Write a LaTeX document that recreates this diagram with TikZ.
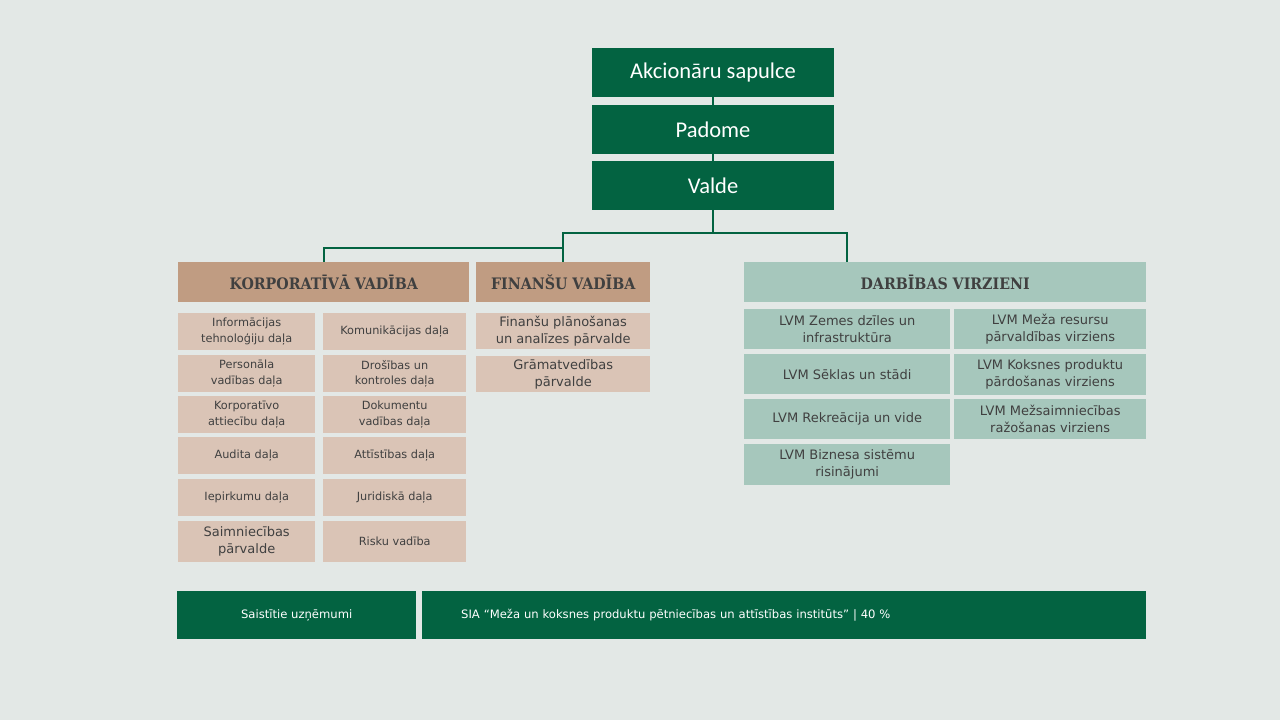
\documentclass[tikz,border=0pt]{standalone}
\usepackage{fontspec}
\setmainfont{DejaVu Sans}
\newfontfamily\topfont{Carlito}
\newfontfamily\headfont{DejaVu Serif Condensed}

\tikzset{
  linie/.style={draw=lvmgreen, line width=1.6pt},
  topbox/.style={fill=lvmgreen, text=white, minimum width=242pt, minimum height=49pt, inner sep=0pt, font=\topfont\fontsize{22.5}{26}\selectfont},
  kopf/.style={text=txtgray, minimum height=40pt, inner sep=0pt, anchor=north west, font=\headfont\bfseries\fontsize{15.8}{18}\selectfont},
  feld/.style={text=txtgray, inner sep=0pt, align=center, anchor=north west, minimum height=37pt},
  klein/.style={font=\fontsize{11.3}{15.5}\selectfont},
  gross/.style={font=\fontsize{13}{16.7}\selectfont},
  unten/.style={fill=lvmgreen, text=white, minimum height=48pt, inner sep=0pt, anchor=north west, font=\fontsize{11.6}{13}\selectfont},
}

\begin{document}
\begin{tikzpicture}[x=1pt, y=-1pt]

\definecolor{bggray}{RGB}{227,232,230}
\definecolor{lvmgreen}{RGB}{3,99,65}
\definecolor{lvmtan}{RGB}{192,156,130}
\definecolor{lvmlight}{RGB}{218,196,182}
\definecolor{lvmteal}{RGB}{166,199,188}
\definecolor{txtgray}{RGB}{64,64,64}

    %Hintergrund
    \fill [bggray] (0,0) rectangle (1280,720);

    %Spitze
    \node[topbox] (akc) at (713,72.5) {Akcionāru sapulce};
    \node[topbox] (pad) at (713,129.5) {Padome};
    \node[topbox] (val) at (713,185.5) {Valde};

    %Koepfe
    \node[kopf, fill=lvmtan, minimum width=291pt] (korp) at (178,262) {KORPORATĪVĀ VADĪBA};
    \node[kopf, fill=lvmtan, minimum width=174pt] (fin) at (476,262) {FINANŠU VADĪBA};
    \node[kopf, fill=lvmteal, minimum width=402pt] (darb) at (744,262) {DARBĪBAS VIRZIENI};

    %Linien
    \coordinate (knick) at (713,233);
    \coordinate (knickk) at (563,248);
    \coordinate (darbin) at (847,262);
    \draw[linie] (akc) -- (pad);
    \draw[linie] (pad) -- (val);
    \draw[linie] (val) -- (knick);
    \draw[linie] (knick) -| (fin.north);
    \draw[linie] (knick) -| (darbin);
    \draw[linie] (knickk) -| (korp.north);

    %Korporativa vadiba, links
    \node[feld, klein, fill=lvmlight, minimum width=137pt] (infot) at (178,313) {Informācijas\\tehnoloģiju daļa};
    \node[feld, klein, fill=lvmlight, minimum width=137pt] (pers) at (178,355) {Personāla\\vadības daļa};
    \node[feld, klein, fill=lvmlight, minimum width=137pt] (korpatt) at (178,396) {Korporatīvo\\attiecību daļa};
    \node[feld, klein, fill=lvmlight, minimum width=137pt] (aud) at (178,437) {Audita daļa};
    \node[feld, klein, fill=lvmlight, minimum width=137pt] (iep) at (178,479) {Iepirkumu daļa};
    \node[feld, gross, fill=lvmlight, minimum width=137pt, minimum height=41pt] (saim) at (178,521) {Saimniecības\\pārvalde};

    %Korporativa vadiba, rechts
    \node[feld, klein, fill=lvmlight, minimum width=143pt] (kom) at (323,313) {Komunikācijas daļa};
    \node[feld, klein, fill=lvmlight, minimum width=143pt] (dros) at (323,355) {Drošības un\\kontroles daļa};
    \node[feld, klein, fill=lvmlight, minimum width=143pt] (dok) at (323,396) {Dokumentu\\vadības daļa};
    \node[feld, klein, fill=lvmlight, minimum width=143pt] (att) at (323,437) {Attīstības daļa};
    \node[feld, klein, fill=lvmlight, minimum width=143pt] (jur) at (323,479) {Juridiskā daļa};
    \node[feld, klein, fill=lvmlight, minimum width=143pt, minimum height=41pt] (risk) at (323,521) {Risku vadība};

    %Finansu vadiba
    \node[feld, gross, fill=lvmlight, minimum width=174pt, minimum height=36pt] (finpl) at (476,313) {Finanšu plānošanas\\un analīzes pārvalde};
    \node[feld, gross, fill=lvmlight, minimum width=174pt, minimum height=36pt] (gram) at (476,356) {Grāmatvedības\\pārvalde};

    %Darbibas virzieni
    \node[feld, gross, fill=lvmteal, minimum width=206pt, minimum height=40pt] (zem) at (744,309) {LVM Zemes dzīles un\\infrastruktūra};
    \node[feld, gross, fill=lvmteal, minimum width=206pt, minimum height=40pt] (sek) at (744,354) {LVM Sēklas un stādi};
    \node[feld, gross, fill=lvmteal, minimum width=206pt, minimum height=40pt] (rek) at (744,399) {LVM Rekreācija un vide};
    \node[feld, gross, fill=lvmteal, minimum width=206pt, minimum height=41pt] (biz) at (744,444) {LVM Biznesa sistēmu\\risinājumi};
    \node[feld, gross, fill=lvmteal, minimum width=192pt, minimum height=40pt] (mez) at (954,309) {LVM Meža resursu\\pārvaldības virziens};
    \node[feld, gross, fill=lvmteal, minimum width=192pt, minimum height=41pt] (kok) at (954,354) {LVM Koksnes produktu\\pārdošanas virziens};
    \node[feld, gross, fill=lvmteal, minimum width=192pt, minimum height=40pt] (mzs) at (954,399) {LVM Mežsaimniecības\\ražošanas virziens};

    %Saistitie uznemumi
    \node[unten, minimum width=239pt] (saist) at (177,591) {Saistītie uzņēmumi};
    \node[unten, inner xsep=39pt, text width=646pt, align=left] (sia) at (422,591) {SIA “Meža un koksnes produktu pētniecības un attīstības institūts” | 40 \%};

\end{tikzpicture}
\end{document}
